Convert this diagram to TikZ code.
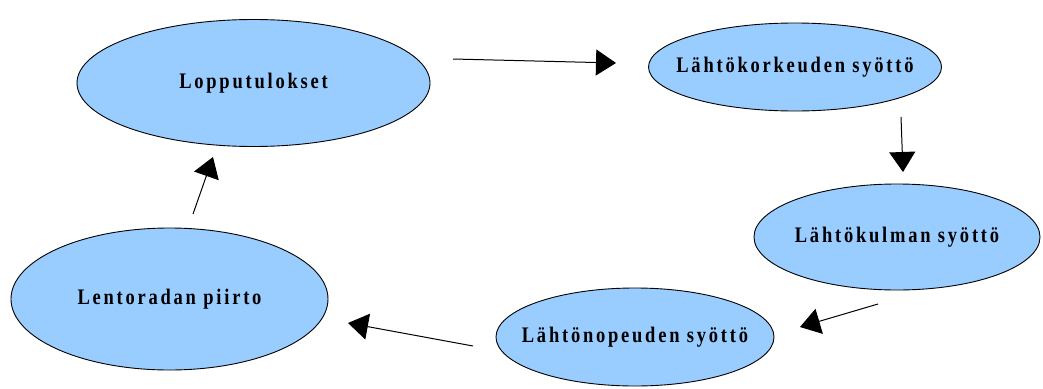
\documentclass[tikz,border=0pt]{standalone}
\usepackage{fontspec}
\setmainfont{Liberation Serif}
\newfontfamily\labfont[LetterSpace=15]{Liberation Serif}
\usetikzlibrary{shapes.geometric,arrows.meta}
\definecolor{ellfill}{RGB}{153,204,255}
\newcommand{\elltext}[1]{\scalebox{1}[1.2]{\labfont\bfseries\fontsize{18.5}{22}\selectfont #1}}
\tikzset{
  ell/.style={ellipse, draw=black, line width=0.9pt, fill=ellfill, inner sep=0pt},
  conn/.style={draw=black, line width=1pt, -{Triangle[length=20pt,width=26pt]}}
}
\begin{document}
\begin{tikzpicture}[x=1pt,y=-1pt]
\useasboundingbox (0,0) rectangle (1043,388);
\node[ell, minimum width=353pt, minimum height=127pt, label={center:\elltext{Lopputulokset}}] (lop) at (253.5,83) {};
\node[ell, minimum width=293pt, minimum height=88pt, label={center:\elltext{Lähtökorkeuden syöttö}}] (kork) at (795,67) {};
\node[ell, minimum width=286pt, minimum height=106pt, label={center:\elltext{Lähtökulman syöttö}}] (kulma) at (897,237) {};
\node[ell, minimum width=278pt, minimum height=98pt, label={center:\elltext{Lähtönopeuden syöttö}}] (nop) at (635,337) {};
\node[ell, minimum width=317pt, minimum height=142pt, label={center:\elltext{Lentoradan piirto}}] (lento) at (169.5,299) {};
\coordinate (a1s) at (453,59);  \coordinate (a1e) at (616,63);
\coordinate (a2s) at (901,117); \coordinate (a2e) at (903,172);
\coordinate (a3s) at (878,304); \coordinate (a3e) at (800,327);
\coordinate (a4s) at (473,346); \coordinate (a4e) at (348,323);
\coordinate (a5s) at (193,214); \coordinate (a5e) at (213,157);
\draw[conn] (a1s) -- (a1e);
\draw[conn] (a2s) -- (a2e);
\draw[conn] (a3s) -- (a3e);
\draw[conn] (a4s) -- (a4e);
\draw[conn] (a5s) -- (a5e);
\end{tikzpicture}
\end{document}
